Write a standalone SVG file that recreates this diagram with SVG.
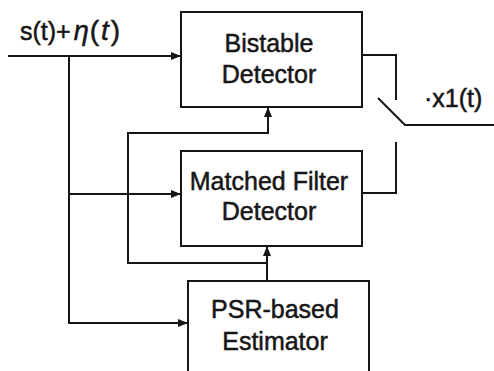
<svg xmlns="http://www.w3.org/2000/svg" width="494" height="371" viewBox="0 0 494 371">
<style>
.box{fill:#fff;stroke:#161616;stroke-width:2}
.ln{fill:none;stroke:#161616;stroke-width:2}
.t{font-family:"Liberation Sans",Arial,sans-serif;font-size:25px;fill:#161616;stroke:#161616;stroke-width:0.5;text-anchor:middle}
.lbl{font-family:"Liberation Sans",Arial,sans-serif;font-size:25px;fill:#161616;stroke:#161616;stroke-width:0.5}
</style>
<defs>
<marker id="ah" viewBox="0 0 10 10" refX="10" refY="5" markerWidth="5" markerHeight="5" orient="auto" markerUnits="strokeWidth">
<path d="M0,1 L10,5 L0,9 z" fill="#161616"/>
</marker>
</defs>
<rect width="494" height="371" fill="#fff"/>
<g id="connectors">
<path class="ln" d="M8,56 H181" marker-end="url(#ah)"/>
<path class="ln" d="M69,56 V323 H188" marker-end="url(#ah)"/>
<path class="ln" d="M69,194 H181" marker-end="url(#ah)"/>
<path class="ln" d="M267,280 V246" marker-end="url(#ah)"/>
<path class="ln" d="M267,263 H128 V133 H268 V107" marker-end="url(#ah)"/>
<path class="ln" d="M362,55 H396 V100"/>
<path class="ln" d="M362,193 H396 V142"/>
<path class="ln" d="M378,98 L405,125 H494"/>
</g>
<g id="bistable">
<rect class="box" x="181" y="12" width="181" height="95"/>
<text class="t" x="269" y="52">Bistable</text>
<text class="t" x="269" y="83">Detector</text>
</g>
<g id="matched">
<rect class="box" x="181" y="151" width="181" height="95"/>
<text class="t" x="269" y="190">Matched Filter</text>
<text class="t" x="269" y="220">Detector</text>
</g>
<g id="psr">
<rect class="box" x="188" y="281" width="181" height="100"/>
<text class="t" x="275" y="318">PSR-based</text>
<text class="t" x="275" y="350">Estimator</text>
</g>
<g id="labels">
<text class="lbl" x="20" y="40">s(t)+<tspan font-style="italic" font-size="27" dx="3">η</tspan><tspan font-size="28" dx="1">(</tspan><tspan font-style="italic" font-size="28" dx="2">t</tspan><tspan font-size="28" dx="2">)</tspan></text>
<text class="lbl" x="424" y="107" font-size="27">·x1(t)</text>
</g>
</svg>
